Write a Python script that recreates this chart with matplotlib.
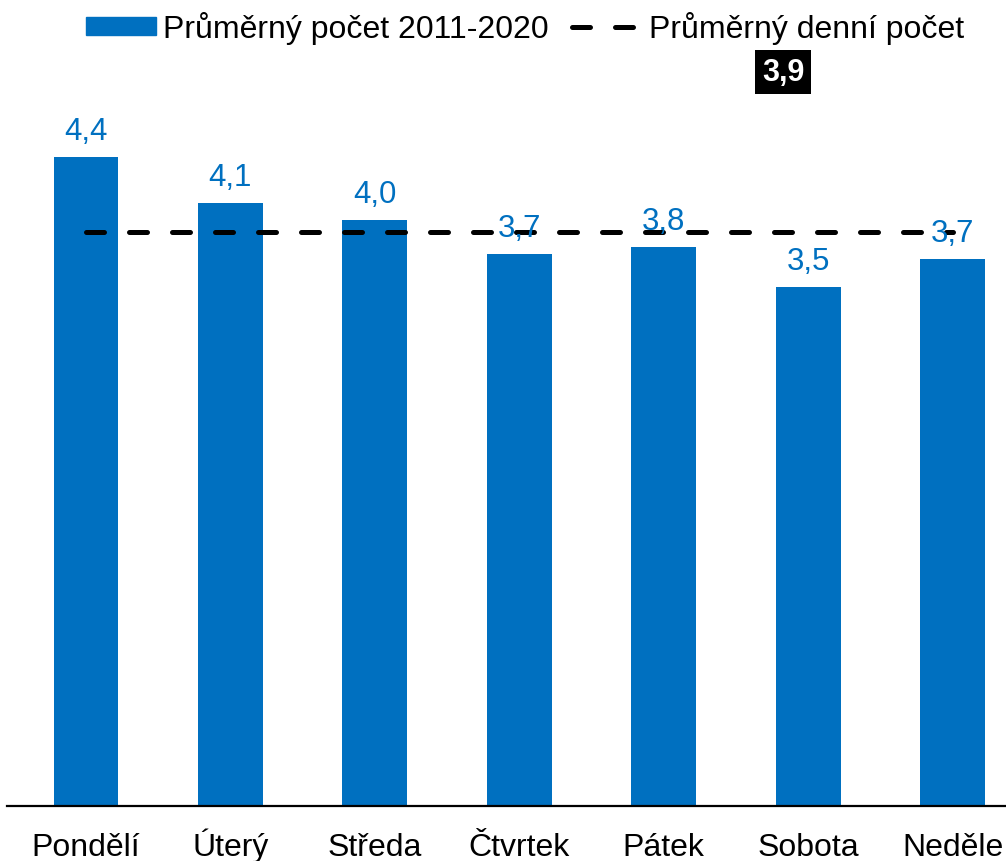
import numpy as np
import matplotlib.pyplot as plt
from matplotlib.lines import Line2D
from matplotlib.patches import Patch

# data
days = ["Pondělí", "Úterý", "Středa", "Čtvrtek", "Pátek", "Sobota", "Neděle"]
avg_count = [4.40, 4.09, 3.97, 3.74, 3.79, 3.52, 3.71]
daily_mean = 3.89

bar_label = "Průměrný počet 2011-2020"
line_label = "Průměrný denní počet"

blue = "#0070C0"
plt.rcParams['font.family'] = ['Liberation Sans', 'DejaVu Sans']

fig = plt.figure(figsize=(10.06, 8.62), dpi=100)
ax = fig.add_axes([7 / 1006, 1 - 807 / 862, 1 - 7 / 1006, (807 - 69.5) / 862])

x = np.arange(len(days))
bars = ax.bar(x, avg_count, width=0.45, color=blue)
ax.plot([x[0], x[-1]], [daily_mean, daily_mean], color="black", lw=3.6,
        linestyle=(0, (3.6, 5)), dash_capstyle="round")

for xi, v in zip(x, avg_count):
    ax.text(xi, v + 0.075, f"{v:.1f}".replace(".", ","), ha="center", va="bottom",
            color=blue, fontsize=22.5)

ax.set_xlim(-0.547, 6.37)
ax.set_ylim(0, 5.0)
ax.set_xticks(x)
ax.set_xticklabels(days, fontsize=23, va="baseline")
ax.tick_params(axis="x", length=0, pad=35)
ax.set_yticks([])
for s in ["left", "right", "top"]:
    ax.spines[s].set_visible(False)
ax.spines["bottom"].set_linewidth(1.6)
ax.spines["bottom"].set_color("black")

handles = [Patch(color=blue, label=bar_label),
           Line2D([], [], color="black", lw=3.6, linestyle=(0, (3.6, 5)),
                  dash_capstyle="round", label=line_label)]
fig.legend(handles=handles, loc="upper left", bbox_to_anchor=(86 / 1006, 1 - 12 / 862),
           ncol=2, frameon=False, fontsize=23, borderpad=0, borderaxespad=0,
           handlelength=2.2, handleheight=0.5, handletextpad=0.2, columnspacing=0.75)

fig.text(783 / 1006, 1 - 73 / 862, f"{daily_mean:.1f}".replace(".", ","),
         ha="center", va="center", color="white", fontsize=22, fontweight="bold",
         bbox=dict(facecolor="black", edgecolor="none", pad=5))

fig.savefig("out.png", dpi=100)
